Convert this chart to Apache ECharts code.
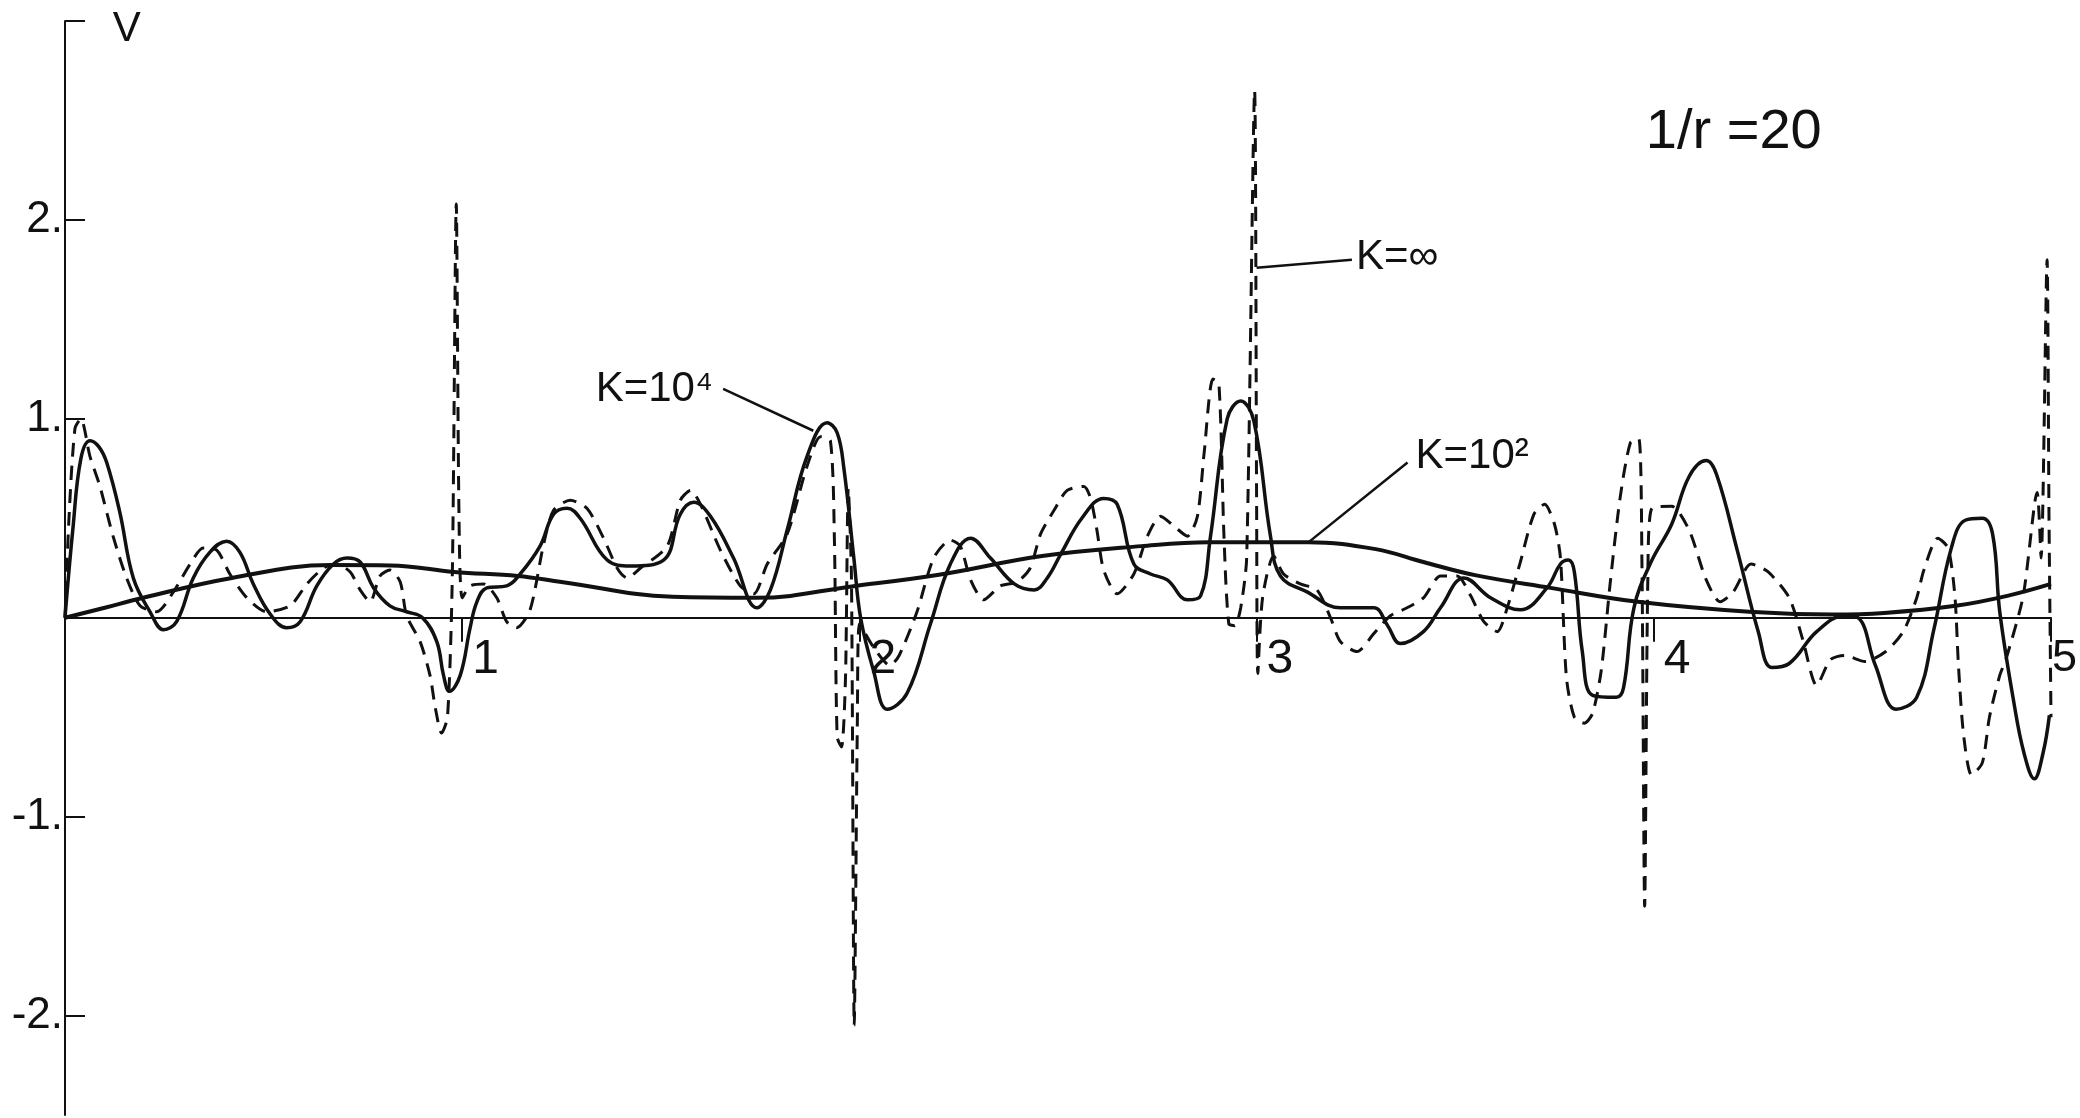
<!DOCTYPE html>
<html>
<head>
<meta charset="utf-8">
<title>V - 1/r = 20</title>
<script src="https://cdn.jsdelivr.net/npm/echarts@6/dist/echarts.min.js"></script>
<style>
html,body{margin:0;padding:0;background:#fff;}
#chart{width:2080px;height:1118px;}
</style>
</head>
<body>
<div id="chart"></div>
<script>

// =====================================================
// DONNEES
// =====================================================

// K = 10^2 : courbe lente
const k100 = [
[0,0],[0.1,0.05],[0.19,0.097],[0.42,0.20],[0.67,0.265],[0.82,0.263],[0.98,0.23],
[1.14,0.21],[1.25,0.18],[1.53,0.105],[1.74,0.10],[1.99,0.16],[2.20,0.216],[2.46,0.31],
[2.71,0.36],[2.88,0.38],[3.04,0.38],[3.13,0.38],[3.30,0.345],[3.42,0.28],[3.55,0.214],
[3.74,0.15],[3.96,0.08],[4.24,0.03],[4.45,0.016],[4.58,0.024],[4.76,0.06],[4.89,0.11],[5.0,0.17]
];

// K = 10^4 : trait plein oscillant
const k10000 = [
[0,0],[0.02,0.45],[0.04,0.8],[0.063,0.89],[0.085,0.86],[0.105,0.78],[0.138,0.53],[0.172,0.20],
[0.214,0.03],[0.248,-0.06],[0.281,-0.02],[0.323,0.20],[0.365,0.33],[0.407,0.385],[0.44,0.33],
[0.474,0.17],[0.516,0.02],[0.558,-0.05],[0.592,-0.02],[0.634,0.16],[0.676,0.27],[0.71,0.30],
[0.743,0.28],[0.777,0.15],[0.818,0.06],[0.86,0.03],[0.9,0.0],[0.936,-0.12],[0.953,-0.29],
[0.968,-0.37],[0.995,-0.29],[1.02,-0.05],[1.037,0.08],[1.062,0.15],[1.112,0.16],[1.146,0.22],
[1.196,0.36],[1.23,0.52],[1.264,0.55],[1.297,0.50],[1.365,0.29],[1.424,0.26],[1.507,0.29],
[1.549,0.52],[1.583,0.58],[1.625,0.51],[1.683,0.30],[1.742,0.05],[1.776,0.14],[1.818,0.44],
[1.868,0.81],[1.919,0.98],[1.944,0.93],[1.961,0.75],[1.986,0.30],[2.003,0.0],[2.036,-0.27],
[2.07,-0.46],[2.12,-0.38],[2.179,-0.03],[2.229,0.27],[2.28,0.40],[2.33,0.30],[2.39,0.17],
[2.44,0.14],[2.473,0.2],[2.507,0.32],[2.56,0.5],[2.615,0.60],[2.649,0.57],[2.691,0.27],
[2.733,0.22],[2.775,0.19],[2.826,0.09],[2.859,0.11],[2.884,0.41],[2.926,1.0],[2.96,1.09],
[2.993,0.99],[3.035,0.41],[3.06,0.21],[3.127,0.13],[3.211,0.05],[3.295,0.05],[3.33,-0.04],
[3.362,-0.13],[3.42,-0.07],[3.463,0.05],[3.522,0.20],[3.589,0.10],[3.664,0.04],[3.731,0.15],
[3.765,0.27],[3.785,0.29],[3.8,0.23],[3.82,-0.17],[3.846,-0.39],[3.906,-0.40],[3.924,-0.35],
[3.95,0.05],[3.993,0.28],[4.045,0.47],[4.089,0.71],[4.132,0.79],[4.158,0.72],[4.21,0.34],
[4.263,-0.07],[4.297,-0.25],[4.341,-0.23],[4.41,-0.07],[4.48,0.01],[4.514,0.0],[4.558,-0.24],
[4.61,-0.46],[4.662,-0.40],[4.705,-0.06],[4.749,0.35],[4.784,0.49],[4.827,0.50],[4.853,0.42],
[4.871,0.03],[4.906,-0.42],[4.932,-0.68],[4.958,-0.81],[4.98,-0.68],[4.996,-0.49]
];

// K = infini : tirets, avec les pics verticaux
const kInf = [
[0,0],[0.01,0.5],[0.025,0.95],[0.04,1.0],[0.063,0.81],[0.088,0.66],[0.121,0.41],[0.155,0.2],
[0.189,0.06],[0.231,0.03],[0.273,0.13],[0.315,0.27],[0.348,0.35],[0.382,0.34],[0.415,0.22],
[0.458,0.10],[0.508,0.03],[0.567,0.06],[0.609,0.17],[0.651,0.25],[0.684,0.27],[0.718,0.23],
[0.743,0.14],[0.768,0.08],[0.793,0.21],[0.818,0.24],[0.844,0.18],[0.86,0.01],[0.894,-0.12],
[0.919,-0.29],[0.932,-0.45],[0.948,-0.58],[0.963,-0.5],[0.975,0.2],[0.985,2.08],[0.992,0.5],
[1.0,0.1],[1.02,0.16],[1.054,0.17],[1.087,0.1],[1.112,-0.02],[1.137,-0.05],[1.171,0.04],
[1.205,0.37],[1.23,0.54],[1.272,0.59],[1.314,0.55],[1.356,0.40],[1.39,0.25],[1.415,0.2],
[1.449,0.25],[1.516,0.36],[1.549,0.59],[1.575,0.64],[1.6,0.57],[1.65,0.34],[1.7,0.16],
[1.734,0.12],[1.768,0.27],[1.818,0.42],[1.868,0.76],[1.902,0.91],[1.927,0.89],[1.937,0.4],
[1.944,-0.6],[1.955,-0.65],[1.965,-0.3],[1.972,0.65],[1.98,0.2],[1.987,-2.05],[1.995,-0.5],
[2.0,-0.03],[2.036,-0.15],[2.077,-0.24],[2.1,-0.19],[2.145,0.03],[2.187,0.3],[2.229,0.39],
[2.254,0.36],[2.28,0.19],[2.313,0.09],[2.355,0.16],[2.397,0.18],[2.43,0.25],[2.456,0.42],
[2.49,0.54],[2.523,0.64],[2.565,0.66],[2.582,0.60],[2.598,0.44],[2.615,0.24],[2.649,0.12],
[2.691,0.22],[2.725,0.41],[2.758,0.51],[2.792,0.46],[2.826,0.41],[2.851,0.51],[2.868,0.83],
[2.89,1.2],[2.905,1.18],[2.918,0.4],[2.93,-0.03],[2.945,-0.04],[2.96,0.05],[2.975,0.3],
[2.995,2.65],[3.0,0.6],[3.003,-0.28],[3.015,0.1],[3.043,0.31],[3.068,0.22],[3.11,0.17],
[3.152,0.14],[3.186,0.0],[3.211,-0.12],[3.253,-0.17],[3.295,-0.08],[3.337,0.01],[3.379,0.05],
[3.42,0.1],[3.463,0.21],[3.505,0.21],[3.539,0.11],[3.572,-0.02],[3.606,-0.07],[3.631,0.05],
[3.664,0.28],[3.698,0.52],[3.725,0.57],[3.75,0.47],[3.765,0.3],[3.78,-0.3],[3.8,-0.5],
[3.825,-0.53],[3.846,-0.48],[3.868,-0.26],[3.89,0.17],[3.915,0.6],[3.941,0.88],[3.962,0.9],
[3.97,0.3],[3.977,-1.45],[3.985,0.2],[3.995,0.55],[4.045,0.56],[4.089,0.44],[4.132,0.19],
[4.167,0.08],[4.2,0.13],[4.245,0.27],[4.288,0.23],[4.341,0.1],[4.375,-0.11],[4.41,-0.34],
[4.445,-0.21],[4.48,-0.19],[4.532,-0.22],[4.584,-0.17],[4.628,-0.07],[4.662,0.10],[4.68,0.24],
[4.715,0.40],[4.741,0.35],[4.758,0.11],[4.767,-0.24],[4.78,-0.59],[4.8,-0.79],[4.827,-0.73],
[4.845,-0.50],[4.871,-0.29],[4.888,-0.2],[4.93,0.11],[4.965,0.63],[4.975,0.3],[4.99,1.8],
[4.995,0.5],[5.0,-0.5]
];

// axes
const xTicks = [1,2,3,4,5];
const yTicks = [-2,-1,1,2,3];
const yLabels = [-2,-1,0,1,2];
const yMin = -2.5;
const yMax = 3;

// textes (coordonnees en unites du graphe)
const notes = [
{text:"V", x:0.12, y:2.96, size:42},
{text:"1/r =20", x:3.98, y:2.44, size:56},
{text:"K=\u221e", x:3.25, y:1.81, size:42},
{text:"K=10\u2074", x:1.336, y:1.15, size:42},
{text:"K=10\u00b2", x:3.40, y:0.81, size:42}
];

// traits de rappel : [depuis le texte, vers la courbe]
const leaders = [
[[3.24,1.80],[3.0,1.76]],
[[1.657,1.15],[1.884,0.94]],
[[3.38,0.78],[3.128,0.375]]
];


// =====================================================
// GRAPHE
// =====================================================

const FONT = '"Liberation Sans", "DejaVu Sans", sans-serif';
const INK = "#111";

const GRID = {left:65, right:29, top:21, bottom:3};
const gridH = 1118 - GRID.top - GRID.bottom;

// l'axe x est remonte jusqu'a V = 0
const xOffset = -gridH * (0 - yMin) / (yMax - yMin);

const chart = echarts.init(document.getElementById("chart"), null, {renderer:"canvas"});

chart.setOption({

backgroundColor:"#fff",
animation:false,

grid:{...GRID, outerBoundsMode:"none", containLabel:false},

xAxis:{
type:"value",
min:0,
max:5,
offset:xOffset,
splitLine:{show:false},
axisLine:{onZero:false, lineStyle:{color:INK, width:2}},
axisTick:{customValues:xTicks, length:24, inside:false, lineStyle:{color:INK, width:2}},
axisLabel:{
customValues:xTicks,
color:INK,
fontFamily:FONT,
fontSize:48,
margin:18,
align:"left",
formatter:(v)=> v===5 ? "{e|5}" : "{n|"+v+"}",
rich:{
n:{color:INK, fontFamily:FONT, fontSize:48, padding:[0,0,0,10]},
e:{color:INK, fontFamily:FONT, fontSize:45, padding:[0,0,0,1]}
}
}
},

yAxis:{
type:"value",
min:yMin,
max:yMax,
splitLine:{show:false},
axisLine:{onZero:false, lineStyle:{color:INK, width:2}},
axisTick:{customValues:yTicks, length:20, inside:true, lineStyle:{color:INK, width:2}},
axisLabel:{
customValues:yLabels,
color:INK,
fontFamily:FONT,
fontSize:44,
margin:2,
formatter:(v)=> v===0 ? "0\u2003\u2002" : v+"."
}
},

series:[

{
name:"K=10^2",
type:"line",
data:k100,
smooth:0.4,
showSymbol:false,
lineStyle:{color:INK, width:4},
markLine:{
silent:true,
symbol:["none","arrow"],
symbolSize:[0,14],
label:{show:false},
lineStyle:{color:INK, width:2.5, type:"solid"},
data:leaders.map(l=>[{coord:l[0]},{coord:l[1]}])
}
},

{
name:"K=10^4",
type:"line",
data:k10000,
smooth:0.4,
showSymbol:false,
lineStyle:{color:INK, width:3.5}
},

{
name:"K=inf",
type:"line",
data:kInf,
smooth:0.25,
showSymbol:false,
lineStyle:{color:INK, width:3, type:[14,9]}
}

]

});


// =====================================================
// ANNOTATIONS
// =====================================================

chart.setOption({
graphic:notes.map(n=>{
const p = chart.convertToPixel({gridIndex:0}, [n.x, n.y]);
return {
type:"text",
x:p[0],
y:p[1],
silent:true,
style:{
text:n.text,
fill:INK,
font:n.size+"px "+FONT,
align:"left",
verticalAlign:"middle",
textAlign:"left",
textVerticalAlign:"middle"
}
};
})
});

window.addEventListener("resize", ()=>chart.resize());

</script>
</body>
</html>
